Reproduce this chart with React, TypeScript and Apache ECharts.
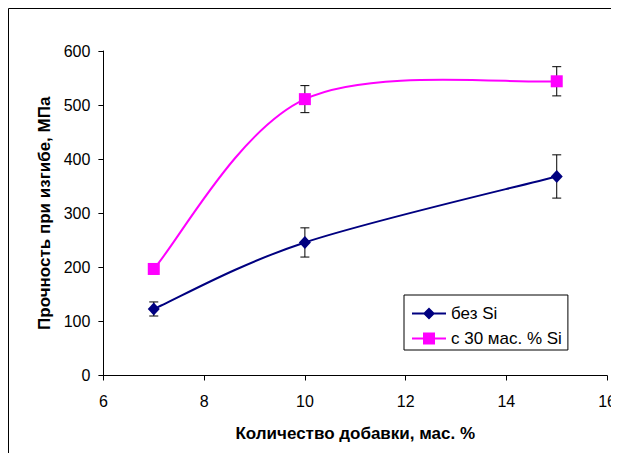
import React, { useEffect, useRef } from "react";
import * as echarts from "echarts";

// Additive content, mass %
const additive = [7, 10, 15];
// Flexural strength, MPa, and its spread
const strengthNoSi = [123, 246, 368];
const errNoSi = [13, 27, 40];
const strengthSi = [197, 511, 544];
const errSi = [9, 25, 27];

const xTicks = { min: 6, max: 16, interval: 2 };
const yTicks = { min: 0, max: 600, interval: 100 };

const nameNoSi = "без Si";
const nameSi = "с 30 мас. % Si";
const xTitle = "Количество добавки, мас. %";
const yTitle = "Прочность при изгибе, МПа";

const NAVY = "#000080";
const MAGENTA = "#FF00FF";
const FONT = "'Liberation Sans', Arial, sans-serif";

// Legend icons: a short line with the marker in its middle (34x12 box)
const iconDiamond = "path://M0,5 H34 V7 H0 Z M17,0 L23,6 L17,12 L11,6 Z";
const iconSquare = "path://M0,5 H34 V7 H0 Z M11,0 H23 V12 H11 Z";

// Cardinal (Catmull-Rom, tension 1/6) segment between point i and i+1
function smoothSegment(xs: number[], ys: number[], color: string) {
  return (params: any, api: any) => {
    const i = params.dataIndex;
    const n = xs.length;
    const p = (k: number) => {
      const j = Math.max(0, Math.min(n - 1, k));
      return api.coord([xs[j], ys[j]]);
    };
    const p0 = p(i - 1), p1 = p(i), p2 = p(i + 1), p3 = p(i + 2);
    return {
      type: "bezierCurve",
      shape: {
        x1: p1[0], y1: p1[1],
        x2: p2[0], y2: p2[1],
        cpx1: p1[0] + (p2[0] - p0[0]) / 6,
        cpy1: p1[1] + (p2[1] - p0[1]) / 6,
        cpx2: p2[0] - (p3[0] - p1[0]) / 6,
        cpy2: p2[1] - (p3[1] - p1[1]) / 6,
      },
      style: { stroke: color, lineWidth: 2, fill: null },
    };
  };
}

function errorBar(params: any, api: any) {
  const x = api.value(0);
  const y = api.value(1);
  const e = api.value(2);
  const top = api.coord([x, y + e]);
  const bot = api.coord([x, y - e]);
  const cap = 4.5;
  const st = { stroke: "#000", lineWidth: 1 };
  return {
    type: "group",
    children: [
      { type: "line", shape: { x1: top[0], y1: top[1], x2: bot[0], y2: bot[1] }, style: st },
      { type: "line", shape: { x1: top[0] - cap, y1: top[1], x2: top[0] + cap, y2: top[1] }, style: st },
      { type: "line", shape: { x1: bot[0] - cap, y1: bot[1], x2: bot[0] + cap, y2: bot[1] }, style: st },
    ],
  };
}

export default function App() {
  const ref = useRef<HTMLDivElement>(null);

  useEffect(() => {
    if (!ref.current) return;
    // the chart runs right up to the window edges; keep scrollbars away
    document.documentElement.style.overflow = "hidden";
    document.body.style.overflow = "hidden";
    const chart = echarts.init(ref.current, null, { renderer: "svg" });
    const pts = (ys: number[]) => additive.map((x, i) => [x, ys[i]]);
    const errPts = (ys: number[], es: number[]) => additive.map((x, i) => [x, ys[i], es[i]]);

    chart.setOption({
      animation: false,
      textStyle: { fontFamily: FONT },
      graphic: [
        {
          type: "rect",
          x: 0.5,
          y: 0.5,
          shape: { x: 0, y: 0, width: 2000, height: 2000 },
          style: { stroke: "#000", lineWidth: 1, fill: null },
          silent: true,
        },
      ],
      grid: { left: 95.4, top: 43, right: 0, bottom: 77.5 },
      legend: {
        orient: "vertical",
        left: 396,
        top: 287,
        selectedMode: false,
        itemWidth: 34,
        itemHeight: 12,
        itemGap: 8,
        padding: [10, 6, 3, 8],
        borderColor: "#000",
        borderWidth: 1,
        backgroundColor: "#fff",
        textStyle: { color: "#000", fontSize: 17, fontFamily: FONT },
        data: [
          { name: nameNoSi, icon: iconDiamond },
          { name: nameSi, icon: iconSquare },
        ],
      },
      xAxis: {
        type: "value",
        min: xTicks.min,
        max: xTicks.max,
        interval: xTicks.interval,
        name: xTitle,
        nameLocation: "middle",
        nameGap: 49,
        nameTextStyle: { color: "#000", fontSize: 17, fontWeight: "bold", fontFamily: FONT },
        axisLine: { lineStyle: { color: "#000", width: 1 } },
        axisTick: { show: true, inside: false, length: 5, lineStyle: { color: "#000" } },
        axisLabel: { color: "#000", fontSize: 16, margin: 18, fontFamily: FONT, showMaxLabel: true },
        splitLine: { show: false },
      },
      yAxis: {
        type: "value",
        min: yTicks.min,
        max: yTicks.max,
        interval: yTicks.interval,
        name: yTitle,
        nameLocation: "middle",
        nameGap: 45,
        nameRotate: 90,
        nameTextStyle: { color: "#000", fontSize: 17, fontWeight: "bold", fontFamily: FONT },
        axisLine: { show: true, lineStyle: { color: "#000", width: 1 } },
        axisTick: { show: true, inside: false, length: 5, lineStyle: { color: "#000" } },
        axisLabel: { color: "#000", fontSize: 16, margin: 13, fontFamily: FONT },
        splitLine: { show: false },
      },
      series: [
        {
          name: "curve-no-si",
          type: "custom",
          renderItem: smoothSegment(additive, strengthNoSi, NAVY),
          data: pts(strengthNoSi).slice(0, -1),
          encode: { x: 0, y: 1 },
          z: 1,
          silent: true,
        },
        {
          name: "curve-si",
          type: "custom",
          renderItem: smoothSegment(additive, strengthSi, MAGENTA),
          data: pts(strengthSi).slice(0, -1),
          encode: { x: 0, y: 1 },
          z: 1,
          silent: true,
        },
        {
          name: "err-no-si",
          type: "custom",
          renderItem: errorBar,
          data: errPts(strengthNoSi, errNoSi),
          encode: { x: 0, y: 1 },
          z: 2,
          silent: true,
        },
        {
          name: "err-si",
          type: "custom",
          renderItem: errorBar,
          data: errPts(strengthSi, errSi),
          encode: { x: 0, y: 1 },
          z: 2,
          silent: true,
        },
        {
          name: nameNoSi,
          type: "scatter",
          symbol: "diamond",
          symbolSize: [12, 13],
          itemStyle: { color: NAVY, opacity: 1 },
          data: pts(strengthNoSi),
          z: 3,
        },
        {
          name: nameSi,
          type: "scatter",
          symbol: "rect",
          symbolSize: 12,
          itemStyle: { color: MAGENTA, opacity: 1 },
          data: pts(strengthSi),
          z: 3,
        },
      ],
    });
    return () => chart.dispose();
  }, []);

  return <div ref={ref} style={{ width: 611, height: 445 }} />;
}
